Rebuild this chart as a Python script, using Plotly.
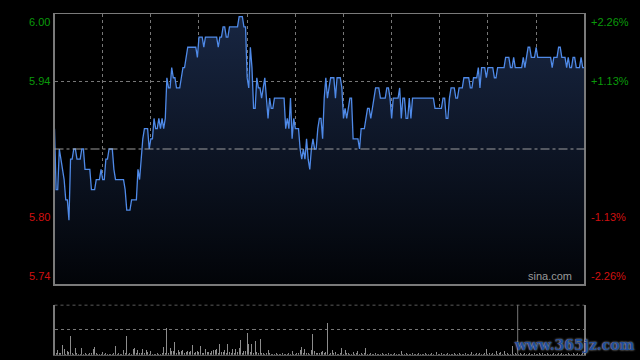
import plotly.graph_objects as go

# ---------------- data ----------------
prev_close = 5.87
pct_levels = [0.0226, 0.0113, -0.0113, -0.0226]
price_labels = ["6.00", "5.94", "5.80", "5.74"]
pct_labels = ["+2.26%", "+1.13%", "-1.13%", "-2.26%"]
session_minutes = 330  # HK session: 150 min morning + 180 min afternoon

prices = [
    5.89, 5.83, 5.83, 5.87, 5.86, 5.85, 5.84, 5.82, 5.82, 5.80,
    5.86, 5.86, 5.87, 5.87, 5.86, 5.86, 5.86, 5.87, 5.87, 5.85,
    5.85, 5.85, 5.85, 5.83, 5.83, 5.83, 5.84, 5.84, 5.84, 5.85,
    5.84, 5.84, 5.86, 5.86, 5.87, 5.87, 5.87, 5.85, 5.84, 5.84,
    5.84, 5.84, 5.84, 5.84, 5.83, 5.81, 5.81, 5.81, 5.82, 5.82,
    5.82, 5.82, 5.85, 5.84, 5.86, 5.88, 5.89, 5.89, 5.89, 5.87,
    5.88, 5.88, 5.90, 5.89, 5.89, 5.90, 5.89, 5.90, 5.89, 5.90,
    5.94, 5.93, 5.93, 5.95, 5.94, 5.94, 5.93, 5.93, 5.93, 5.94,
    5.95, 5.95, 5.96, 5.97, 5.97, 5.97, 5.97, 5.97, 5.97, 5.96,
    5.98, 5.98, 5.98, 5.97, 5.98, 5.98, 5.98, 5.98, 5.98, 5.98,
    5.98, 5.98, 5.97, 5.98, 5.98, 5.99, 5.99, 5.98, 5.98, 5.99,
    5.99, 5.99, 5.99, 5.99, 5.99, 6.00, 6.00, 6.00, 5.99, 5.99,
    5.94, 5.93, 5.97, 5.95, 5.91, 5.91, 5.94, 5.93, 5.93, 5.92,
    5.93, 5.94, 5.92, 5.90, 5.92, 5.91, 5.91, 5.92, 5.92, 5.92,
    5.92, 5.92, 5.92, 5.92, 5.89, 5.90, 5.89, 5.92, 5.88, 5.90,
    5.89, 5.89, 5.89, 5.87, 5.86, 5.87, 5.86, 5.88, 5.86, 5.85,
    5.87, 5.88, 5.87, 5.87, 5.89, 5.90, 5.90, 5.88, 5.92, 5.94,
    5.92, 5.93, 5.94, 5.94, 5.94, 5.92, 5.94, 5.94, 5.94, 5.93,
    5.90, 5.91, 5.90, 5.91, 5.92, 5.92, 5.88, 5.88, 5.88, 5.88,
    5.87, 5.89, 5.89, 5.89, 5.90, 5.91, 5.91, 5.90, 5.91, 5.92,
    5.93, 5.93, 5.93, 5.92, 5.92, 5.92, 5.92, 5.93, 5.93, 5.92,
    5.90, 5.92, 5.92, 5.92, 5.92, 5.93, 5.90, 5.92, 5.92, 5.90,
    5.90, 5.92, 5.90, 5.92, 5.92, 5.92, 5.92, 5.92, 5.92, 5.92,
    5.92, 5.92, 5.92, 5.92, 5.92, 5.92, 5.92, 5.91, 5.91, 5.91,
    5.91, 5.91, 5.92, 5.92, 5.90, 5.90, 5.92, 5.93, 5.93, 5.93,
    5.92, 5.92, 5.93, 5.93, 5.93, 5.94, 5.94, 5.94, 5.94, 5.93,
    5.93, 5.94, 5.94, 5.94, 5.95, 5.93, 5.95, 5.95, 5.95, 5.94,
    5.95, 5.95, 5.95, 5.95, 5.94, 5.94, 5.95, 5.95, 5.95, 5.95,
    5.95, 5.96, 5.96, 5.96, 5.95, 5.95, 5.96, 5.95, 5.95, 5.95,
    5.95, 5.95, 5.96, 5.95, 5.96, 5.97, 5.97, 5.96, 5.96, 5.96,
    5.97, 5.96, 5.96, 5.96, 5.96, 5.96, 5.96, 5.96, 5.96, 5.96,
    5.95, 5.96, 5.96, 5.96, 5.97, 5.97, 5.96, 5.96, 5.96, 5.95,
    5.96, 5.95, 5.95, 5.96, 5.96, 5.95, 5.95, 5.95, 5.96, 5.95,
    5.95,
]

volumes = [
    29, 6, 14, 4, 5, 29, 17, 3, 11, 8,
    56, 4, 3, 20, 4, 3, 2, 20, 3, 4,
    2, 3, 4, 5, 17, 23, 4, 3, 2, 3,
    8, 3, 6, 2, 3, 2, 3, 4, 26, 3,
    4, 2, 3, 14, 5, 56, 3, 4, 3, 17,
    20, 4, 14, 6, 4, 17, 5, 14, 8, 3,
    11, 3, 2, 3, 4, 3, 2, 4, 23, 5,
    81, 6, 20, 11, 11, 38, 6, 14, 8, 11,
    14, 6, 8, 11, 8, 11, 29, 5, 8, 11,
    8, 26, 5, 4, 17, 8, 8, 6, 11, 14,
    14, 17, 6, 32, 8, 8, 14, 5, 32, 8,
    4, 17, 6, 17, 8, 20, 44, 6, 11, 11,
    65, 32, 8, 32, 6, 41, 8, 5, 47, 6,
    4, 3, 5, 14, 4, 3, 2, 3, 4, 2,
    3, 2, 4, 3, 2, 3, 4, 2, 11, 3,
    2, 6, 4, 14, 23, 5, 17, 4, 6, 3,
    14, 62, 11, 6, 4, 6, 8, 11, 4, 8,
    94, 3, 6, 14, 4, 8, 3, 2, 6, 20,
    3, 14, 4, 6, 3, 2, 8, 3, 4, 11,
    3, 6, 2, 4, 20, 3, 2, 4, 3, 2,
    4, 2, 3, 2, 4, 3, 2, 3, 4, 2,
    3, 2, 4, 3, 2, 3, 11, 2, 3, 4,
    2, 3, 2, 4, 3, 2, 3, 4, 2, 3,
    2, 4, 3, 2, 3, 4, 2, 3, 8, 2,
    3, 4, 2, 3, 2, 4, 3, 2, 3, 4,
    2, 3, 4, 2, 3, 2, 4, 3, 2, 3,
    8, 3, 2, 6, 3, 4, 2, 3, 4, 17,
    3, 6, 2, 4, 3, 11, 2, 4, 8, 3,
    11, 2, 4, 3, 2, 26, 3, 4, 2, 3,
    4, 2, 3, 5, 2, 3, 4, 2, 3, 4,
    2, 3, 4, 2, 5, 3, 2, 4, 3, 2,
    3, 4, 2, 3, 5, 2, 4, 3, 2, 3,
    4, 2, 3, 5, 2, 3, 4, 2, 3, 4,
    6,
]
vol_max = 150

minutes = list(range(len(prices)))

# ---------------- derived ----------------
y_top = prev_close * (1 + pct_levels[0])
y_bot = prev_close * (1 + pct_levels[-1])
grid_levels = [prev_close * (1 + p) for p in pct_levels]

X0, X1 = 54.5 / 640, 584.3 / 640
main_dom = [1 - 284 / 360, 1 - 14 / 360]
vol_dom = [1 - 354.7 / 360, 1 - 304.7 / 360]

GRID = "rgba(140,140,140,0.85)"
BORDER = "#7a7a7a"
GREEN = "#0a9a0a"
RED = "#d01010"

fig = go.Figure()

fig.add_trace(go.Scatter(
    x=minutes, y=prices, mode="lines",
    line=dict(color="#4f8ae8", width=1.3),
    fill="tozeroy",
    fillgradient=dict(type="vertical",
                      colorscale=[[0, "rgb(2,4,8)"], [1, "rgb(24,38,66)"]],
                      start=y_bot, stop=y_top),
    xaxis="x", yaxis="y", hoverinfo="skip",
))

fig.add_trace(go.Bar(
    x=minutes, y=volumes, width=0.62,
    marker=dict(color="#8c8c8c", line=dict(width=0)),
    xaxis="x2", yaxis="y2", hoverinfo="skip",
))

fig.update_layout(
    width=640, height=360,
    margin=dict(l=0, r=0, t=0, b=0),
    paper_bgcolor="black", plot_bgcolor="black",
    showlegend=False,
    font=dict(family="Liberation Sans, Arial, sans-serif", size=11),
    xaxis=dict(domain=[X0, X1], range=[0, session_minutes],
               tickvals=list(range(30, session_minutes, 30)),
               showticklabels=False, ticks="",
               showgrid=True, gridcolor=GRID, griddash="dot", gridwidth=1,
               showline=True, linecolor=BORDER, linewidth=1.5, mirror=True,
               zeroline=False, anchor="y"),
    yaxis=dict(domain=main_dom, range=[y_bot, y_top],
               tickvals=[grid_levels[1], grid_levels[2]],
               showticklabels=False, ticks="",
               showgrid=True, gridcolor=GRID, griddash="dot", gridwidth=1,
               showline=True, linecolor=BORDER, linewidth=1.5, mirror=True,
               zeroline=False, anchor="x"),
    xaxis2=dict(domain=[X0, X1], range=[0, session_minutes],
                showticklabels=False, ticks="", showgrid=False,
                showline=True, linecolor="#555", linewidth=1,
                zeroline=False, anchor="y2"),
    yaxis2=dict(domain=vol_dom, range=[0, vol_max],
                tickvals=[vol_max / 2], showticklabels=False, ticks="",
                showgrid=True, gridcolor=GRID, griddash="dot", gridwidth=1.5,
                showline=True, linecolor=BORDER, linewidth=1.5, mirror=True,
                zeroline=False, anchor="x2"),
    bargap=0,
)

shapes = [
    # previous close reference
    dict(type="line", xref="x domain", yref="y", x0=0, x1=1,
         y0=prev_close, y1=prev_close,
         line=dict(color="rgba(170,170,170,0.9)", width=1.2, dash="dashdot")),
    # volume panel top border
    dict(type="line", xref="x2 domain", yref="y2", x0=0, x1=1,
         y0=vol_max, y1=vol_max,
         line=dict(color=GRID, width=1.5, dash="dot")),
    # watermark frame edge
    dict(type="line", xref="paper", yref="y2", x0=517.7 / 640, x1=517.7 / 640,
         y0=0, y1=vol_max, line=dict(color="#777", width=1)),
]
fig.update_layout(shapes=shapes)

annotations = []
n = len(price_labels)
for i, (pl, ql, lvl) in enumerate(zip(price_labels, pct_labels, grid_levels)):
    color = GREEN if pct_levels[i] > 0 else RED
    if i == 0:
        ya = "top"
    elif i == n - 1:
        ya = "bottom"
    else:
        ya = "middle"
    annotations.append(dict(x=0, xref="x domain", y=lvl, yref="y",
                            text=pl, showarrow=False, xanchor="right",
                            yanchor=ya, xshift=-3,
                            font=dict(color=color, size=11)))
    annotations.append(dict(x=1, xref="x domain", y=lvl, yref="y",
                            text=ql, showarrow=False, xanchor="left",
                            yanchor=ya, xshift=5,
                            font=dict(color=color, size=11)))

annotations.append(dict(x=1, xref="x domain", y=0, yref="y domain",
                        text="sina.com", showarrow=False, xanchor="right",
                        yanchor="bottom", xshift=-10, yshift=0,
                        font=dict(color="#9a9a9a", size=11)))
annotations.append(dict(x=574 / 640, xref="paper", y=1 - 345 / 360, yref="paper",
                        text="<b>www.365jz.com</b>", showarrow=False,
                        xanchor="center", yanchor="middle",
                        font=dict(color="#1f4e9c", size=14,
                                  family="DejaVu Serif, serif",
                                  shadow="0px 0px 2px #dddddd")))
fig.update_layout(annotations=annotations)

fig.write_html(
    "out.html",
    config={"displayModeBar": False, "staticPlot": True},
    post_script="document.body.style.margin='0';"
                "document.body.style.background='black';"
                "document.body.style.overflow='hidden';",
)
